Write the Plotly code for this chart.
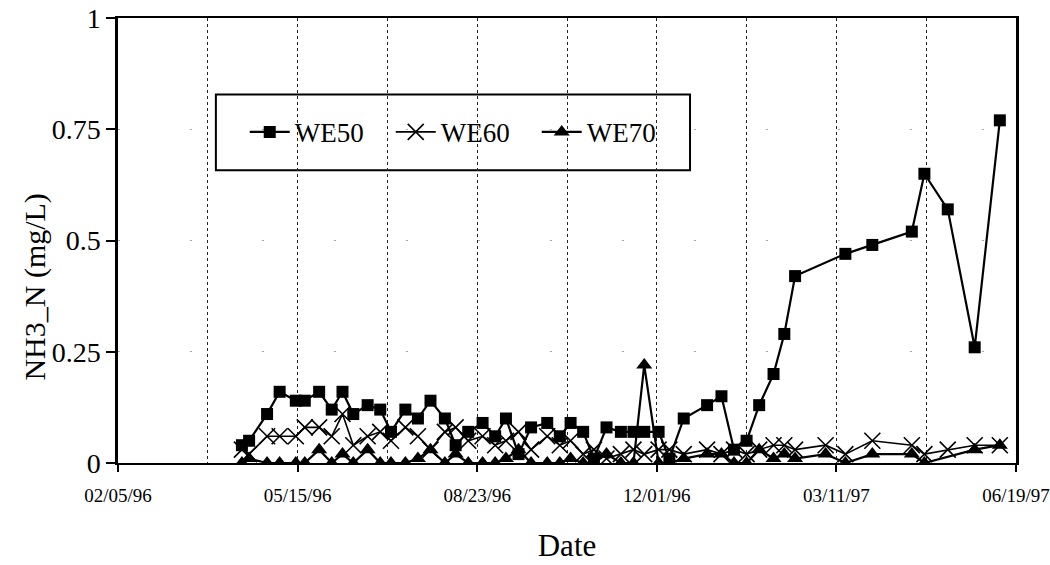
import plotly.graph_objects as go

dates = [
    "1996-04-14", "1996-04-18", "1996-04-28", "1996-05-05", "1996-05-14", "1996-05-19",
    "1996-05-27", "1996-06-03", "1996-06-09", "1996-06-15", "1996-06-23", "1996-06-30",
    "1996-07-06", "1996-07-14", "1996-07-21", "1996-07-28", "1996-08-05", "1996-08-11",
    "1996-08-18", "1996-08-26", "1996-09-02", "1996-09-08", "1996-09-15", "1996-09-22",
    "1996-10-01", "1996-10-08", "1996-10-14", "1996-10-21", "1996-10-27", "1996-11-03",
    "1996-11-11", "1996-11-18", "1996-11-24", "1996-12-02", "1996-12-08", "1996-12-16",
    "1996-12-29", "1997-01-06", "1997-01-13", "1997-01-20", "1997-01-27", "1997-02-04",
    "1997-02-10", "1997-02-16", "1997-03-05", "1997-03-16", "1997-03-31", "1997-04-22",
    "1997-04-29", "1997-05-12", "1997-05-27", "1997-06-10",
]

we50 = [
    0.04, 0.05, 0.11, 0.16, 0.14, 0.14,
    0.16, 0.12, 0.16, 0.11, 0.13, 0.12,
    0.07, 0.12, 0.10, 0.14, 0.10, 0.04,
    0.07, 0.09, 0.06, 0.10, 0.02, 0.08,
    0.09, 0.06, 0.09, 0.07, 0.01, 0.08,
    0.07, 0.07, 0.07, 0.07, 0.01, 0.10,
    0.13, 0.15, 0.03, 0.05, 0.13, 0.20,
    0.29, 0.42, None, 0.47, 0.49, 0.52,
    0.65, 0.57, 0.26, 0.77,
]

we60 = [
    0.03, 0.02, 0.06, 0.06, 0.06, 0.08,
    0.08, 0.06, 0.11, 0.04, 0.06, 0.07,
    0.05, 0.08, 0.06, 0.03, 0.07, 0.08,
    0.05, 0.06, 0.04, 0.05, 0.07, 0.03,
    0.06, 0.04, 0.05, 0.02, 0.03, 0.01,
    0.02, 0.03, 0.02, 0.03, 0.03, 0.02,
    0.03, 0.02, 0.03, 0.02, 0.03, 0.04,
    0.04, 0.03, 0.04, 0.02, 0.05, 0.04,
    0.02, 0.03, 0.04, 0.04,
]

we70 = [
    0.00, 0.01, 0.00, 0.00, 0.00, 0.00,
    0.03, 0.00, 0.02, 0.00, 0.03, 0.00,
    0.00, 0.00, 0.01, 0.03, 0.00, 0.02,
    0.00, 0.00, 0.00, 0.01, 0.03, 0.00,
    0.00, 0.00, 0.01, 0.00, 0.00, 0.02,
    0.00, 0.00, 0.22, 0.00, 0.00, 0.01,
    0.02, 0.02, 0.00, 0.00, 0.03, 0.01,
    0.02, 0.01, 0.02, 0.00, 0.02, 0.02,
    0.00, None, 0.03, 0.04,
]

y_ticks = [0, 0.25, 0.5, 0.75, 1]
y_tick_labels = ["0", "0.25", "0.5", "0.75", "1"]

FONT = "Liberation Serif"
DAY_MS = 86400000

fig = go.Figure()
fig.add_trace(go.Scatter(
    x=dates, y=we50, name="WE50", mode="lines+markers", connectgaps=True,
    line=dict(color="black", width=2.2),
    marker=dict(symbol="square", size=12, color="black"),
))
fig.add_trace(go.Scatter(
    x=dates, y=we60, name="WE60", mode="lines+markers", connectgaps=True,
    line=dict(color="black", width=1.6),
    marker=dict(symbol="x-thin", size=16, color="black",
                line=dict(width=1.6, color="black")),
))
fig.add_trace(go.Scatter(
    x=dates, y=we70, name="WE70", mode="lines+markers", connectgaps=True,
    line=dict(color="black", width=2.2),
    marker=dict(symbol="triangle-up", size=14, color="black"),
))

# legend frame
fig.add_shape(type="rect", xref="paper", yref="paper",
              x0=0.109, x1=0.637, y0=0.658, y1=0.828,
              line=dict(color="black", width=2), fillcolor="white", layer="below")

# y-axis title (placed below centre, as in the original)
fig.add_annotation(text="NH3_N (mg/L)", xref="paper", yref="paper",
                   x=-0.092, y=0.395, xanchor="center", yanchor="middle",
                   textangle=-90, showarrow=False,
                   font=dict(size=30, family=FONT, color="#000000"))

fig.update_layout(
    width=1050, height=565,
    margin=dict(l=118, r=34, t=18, b=102),
    paper_bgcolor="white", plot_bgcolor="white",
    font=dict(family=FONT, color="black"),
    showlegend=True,
    legend=dict(orientation="h", x=0.385, xanchor="center", y=0.743, yanchor="middle",
                font=dict(size=27, family=FONT), bgcolor="rgba(0,0,0,0)",
                itemwidth=40, entrywidth=91, entrywidthmode="pixels"),
)

fig.update_xaxes(
    type="date",
    range=["1996-02-05", "1997-06-19"],
    tick0="1996-02-05", dtick=100 * DAY_MS,
    tickformat="%m/%d/%y",
    tickfont=dict(size=19, family=FONT),
    ticks="outside", ticklen=7, tickcolor="black", tickwidth=1.5,
    ticklabelstandoff=7,
    showline=True, linecolor="black", linewidth=1.5, mirror=True,
    showgrid=True, gridcolor="#222", griddash="dot", gridwidth=1,
    minor=dict(dtick=50 * DAY_MS, tick0="1996-02-05", showgrid=True,
               gridcolor="#222", griddash="dot", gridwidth=1, ticks=""),
    zeroline=False, automargin=False,
    title=dict(text="Date", font=dict(size=31, family=FONT), standoff=30),
)

fig.update_yaxes(
    range=[0, 1],
    tickvals=y_ticks, ticktext=y_tick_labels,
    tickfont=dict(size=28, family=FONT),
    ticks="outside", ticklen=9, tickcolor="black", tickwidth=1.5,
    showline=True, linecolor="black", linewidth=2.5, mirror=True,
    showgrid=True, gridcolor="#aaa", griddash="2px,70px", gridwidth=1,
    zeroline=False, automargin=False,
)

fig.write_html(
    "out.html",
    config={"displayModeBar": False},
    post_script="document.body.style.margin='0';document.body.style.overflow='hidden';",
)
